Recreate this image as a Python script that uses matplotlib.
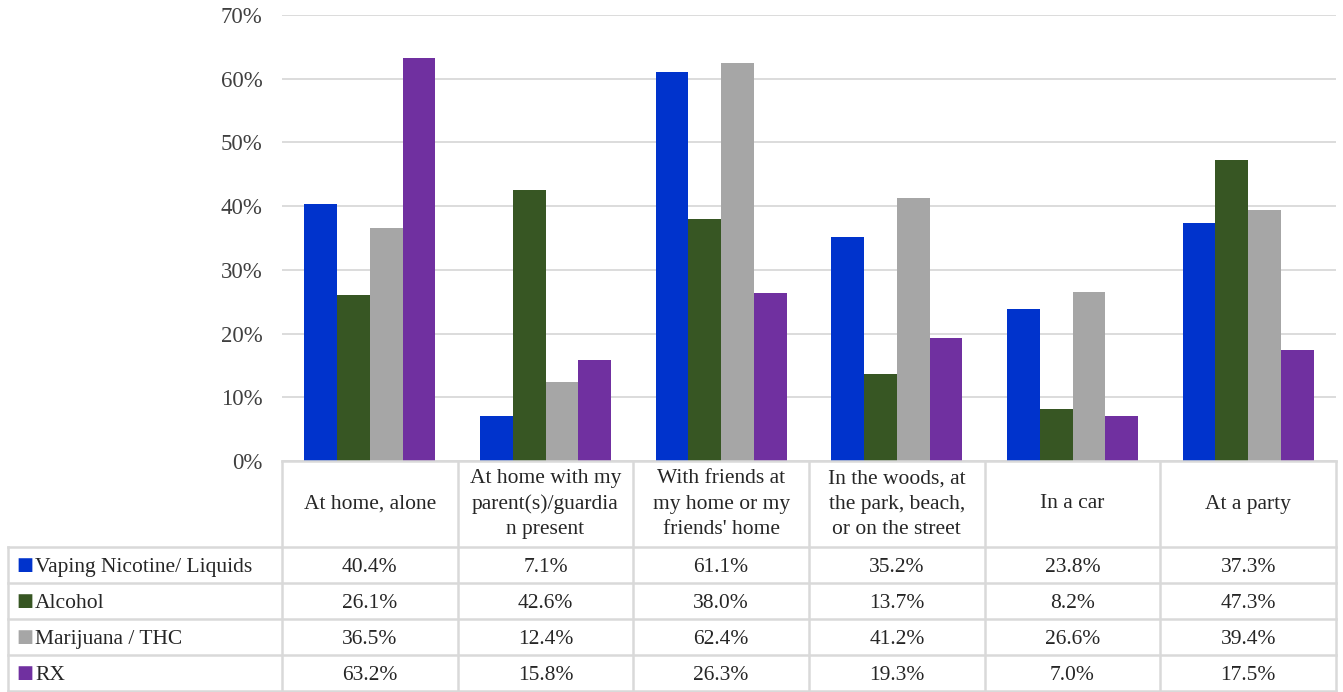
import matplotlib.pyplot as plt
import matplotlib.transforms as mtransforms
import numpy as np

categories = ["At home, alone", "At home with my\nparent(s)/guardia\nn present",
              "With friends at\nmy home or my\nfriends' home", "In the woods, at\nthe park, beach,\nor on the street",
              "In a car", "At a party"]
series = ["Vaping Nicotine/ Liquids", "Alcohol", "Marijuana / THC", "RX"]
vaping = [40.4, 7.1, 61.1, 35.2, 23.8, 37.3]
alcohol = [26.1, 42.6, 38.0, 13.7, 8.2, 47.3]
marijuana = [36.5, 12.4, 62.4, 41.2, 26.6, 39.4]
rx = [63.2, 15.8, 26.3, 19.3, 7.0, 17.5]
colors = ["#0033CC", "#375623", "#A6A6A6", "#7030A0"]

plt.rcParams['font.family'] = ['Liberation Serif', 'DejaVu Serif']
W, H = 1343, 692
fig = plt.figure(figsize=(W / 100, H / 100), dpi=100)
# axes box in pixels: left 282, right 1336, top 15, bottom 461
ax = fig.add_axes([282 / W, 1 - 461 / H, (1336 - 282) / W, (461 - 15) / H])

values = [vaping, alcohol, marijuana, rx]
n = len(categories)
x = np.arange(n)
bw = 0.186
for i, (vals, c) in enumerate(zip(values, colors)):
    ax.bar(x + (i - 1.5) * bw, vals, bw, color=c, zorder=2)

fs = 15.5
tc = "#262626"
ax.set_xlim(-0.5, n - 0.5)
ax.set_ylim(0, 70)
ax.set_yticks(range(0, 71, 10))
ax.set_yticklabels([f"{t}%" for t in range(0, 71, 10)], fontsize=16.5, color="#404040")
ax.tick_params(axis='y', length=0, pad=14)
ax.set_xticks([])
ax.grid(axis='y', color="#D9D9D9", lw=1.3, zorder=0)
for s in ax.spines.values():
    s.set_visible(False)

# table below the axes, x in data coords, y in axes fraction
trans = mtransforms.blended_transform_factory(ax.transData, ax.transAxes)
ph = 446.0
head = -86 / ph
rowh = 36 / ph
lc = "#D9D9D9"
lw = 1.8
xl = -0.5 - (282 - 8) / (1054 / n)  # left edge of the label column
bottom = head - 4 * rowh

def hline(x0, x1, y):
    ax.plot([x0, x1], [y, y], color=lc, lw=lw, transform=trans, clip_on=False)

def vline(xx, y0, y1):
    ax.plot([xx, xx], [y0, y1], color=lc, lw=lw, transform=trans, clip_on=False)

hline(-0.5, n - 0.5, 0)
for r in range(5):
    hline(xl, n - 0.5, head - r * rowh)
for k in range(n + 1):
    vline(k - 0.5, 0, bottom)
vline(xl, head, bottom)

for k, cat in enumerate(categories):
    ax.text(k, head / 2, cat, transform=trans, ha='center', va='center',
            fontsize=fs, color=tc, linespacing=1.45)

for r, (name, vals, c) in enumerate(zip(series, values, colors)):
    yc = head - (r + 0.5) * rowh
    ax.text(xl + 0.05, yc, "\u25A0", transform=trans, ha='left', va='center',
            fontsize=13, color=c, family='DejaVu Sans')
    ax.text(xl + 0.155, yc, name, transform=trans, ha='left', va='center_baseline',
            fontsize=fs, color=tc)
    for k, v in enumerate(vals):
        ax.text(k, yc, f"{v:.1f}%", transform=trans, ha='center', va='center_baseline',
                fontsize=fs, color=tc)

plt.savefig("out.png", dpi=100)
